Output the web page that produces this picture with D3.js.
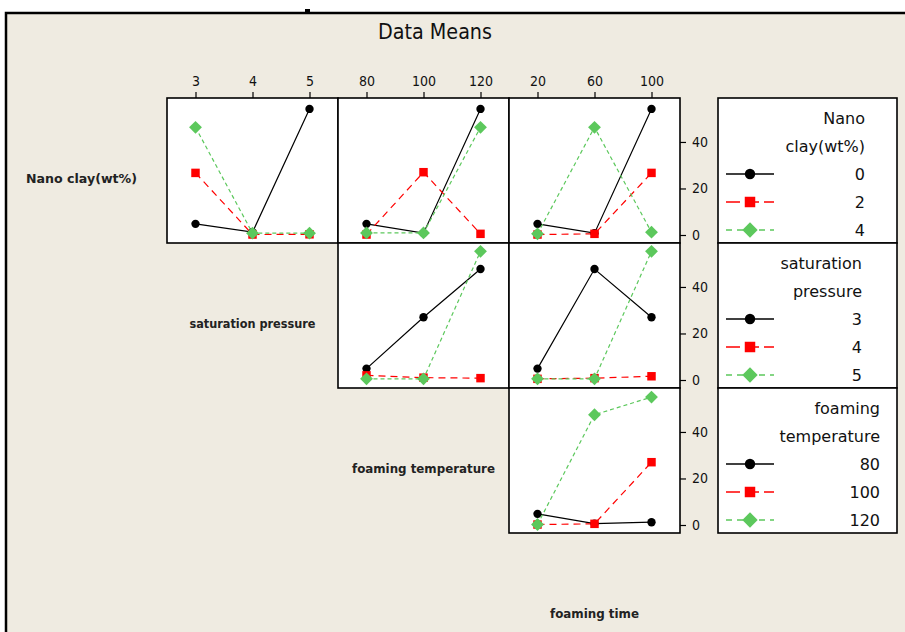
<!DOCTYPE html>
<html lang="en">
<head>
  <meta charset="UTF-8" />
  <title>Data Means</title>
  <script src="https://d3js.org/d3.v7.min.js"></script>
  <style>
    body { margin: 0; background: #fff; }
    svg { display: block; }
    .tick-label { font: 14px "Liberation Sans Narrow", "DejaVu Sans Condensed", sans-serif; fill: #111; }
    .legend-text { font: 16px "DejaVu Sans", sans-serif; fill: #111; }
    .diag { font: bold 12px "DejaVu Sans Condensed", "DejaVu Sans", sans-serif; fill: #222; }
  </style>
</head>
<body>
<div id="chart"></div>
<script>
  // factor names and their levels
  const factorNames = ["Nano clay(wt%)", "saturation pressure", "foaming temperature", "foaming time"];
  const legendTitles = [["Nano", "clay(wt%)"], ["saturation", "pressure"], ["foaming", "temperature"]];
  const clayLevels = ["0", "2", "4"];
  const pressureLevels = ["3", "4", "5"];
  const tempLevels = ["80", "100", "120"];
  const timeLevels = ["20", "60", "100"];
  const yTicks = [0, 20, 40];

  // means: [trace level][x level]
  const clayByPressure = [[4.8, 1.2, 54.2], [26.7, 0.2, 0.3], [46.3, 0.8, 0.8]];
  const clayByTemp     = [[4.8, 0.8, 54.2], [0.2, 27.0, 0.5], [0.9, 0.9, 46.3]];
  const clayByTime     = [[4.8, 0.8, 54.2], [0.2, 0.5, 26.7], [0.5, 46.3, 1.2]];
  const pressureByTemp = [[4.9, 27.0, 47.7], [2.0, 1.0, 0.8], [0.5, 0.5, 55.3]];
  const pressureByTime = [[4.9, 47.7, 27.0], [0.5, 0.8, 1.6], [0.5, 0.5, 55.3]];
  const tempByTime     = [[4.8, 0.6, 1.2], [0.2, 0.5, 27.0], [0.2, 47.4, 55.0]];

  const levels = [clayLevels, pressureLevels, tempLevels, timeLevels];
  const means = [
    [clayByPressure, clayByTemp, clayByTime],
    [null, pressureByTemp, pressureByTime],
    [null, null, tempByTime]
  ];

  const width = 905, height = 632;
  const bg = "#efebe1";
  const colors = ["#000000", "#ff0000", "#5cc85c"];
  const dashes = [null, "7,5", "4,3"];
  const shapes = [d3.symbolCircle, d3.symbolSquare, d3.symbolDiamond2];
  const plotSizes = [55, 72, 105];
  const legendSizes = [85, 110, 150];

  const panelW = 171, panelH = 145;
  const left0 = 167, top0 = 98;
  const colX = c => left0 + c * panelW;
  const rowY = r => top0 + r * panelH;
  const legendX = 718, legendW = 179;
  const legendTextRight = [865, 862, 880];

  const svg = d3.select("#chart").append("svg")
    .attr("width", width)
    .attr("height", height);

  // frame
  svg.append("rect").attr("x", 6).attr("y", 13).attr("width", width).attr("height", height)
    .attr("fill", bg);
  svg.append("path")
    .attr("d", `M6,${height}V13H${width}`)
    .attr("fill", "none").attr("stroke", "#000").attr("stroke-width", 2.5);
  svg.append("rect").attr("x", 305).attr("y", 9).attr("width", 5).attr("height", 4).attr("fill", "#000");

  svg.append("text")
    .attr("x", 435).attr("y", 39)
    .attr("text-anchor", "middle")
    .attr("textLength", 114).attr("lengthAdjust", "spacingAndGlyphs")
    .style("font", "22px 'Liberation Sans Narrow', 'DejaVu Sans Condensed', sans-serif")
    .attr("fill", "#111")
    .text("Data Means");

  const y = r => d3.scaleLinear().domain([-3.44, 58.9]).range([rowY(r) + panelH, rowY(r)]);
  const x = c => d3.scalePoint().domain(levels[c + 1]).range([colX(c), colX(c) + panelW]).padding(0.5);

  for (let r = 0; r < 3; r++) {
    for (let c = r; c < 3; c++) {
      const xs = x(c), ys = y(r);
      const g = svg.append("g");
      g.append("rect")
        .attr("x", colX(c)).attr("y", rowY(r))
        .attr("width", panelW).attr("height", panelH)
        .attr("fill", "#fff");

      const line = d3.line().x((d, i) => xs(levels[c + 1][i])).y(d => ys(d));
      means[r][c].forEach((series, k) => {
        g.append("path")
          .datum(series)
          .attr("d", line)
          .attr("fill", "none")
          .attr("stroke", colors[k])
          .attr("stroke-width", 1.2)
          .attr("stroke-dasharray", dashes[k]);
      });
      means[r][c].forEach((series, k) => {
        g.selectAll(null)
          .data(series)
          .join("path")
          .attr("transform", (d, i) => `translate(${xs(levels[c + 1][i])},${ys(d)})`)
          .attr("d", d3.symbol(shapes[k], plotSizes[k]))
          .attr("fill", colors[k]);
      });

      g.append("rect")
        .attr("x", colX(c)).attr("y", rowY(r))
        .attr("width", panelW).attr("height", panelH)
        .attr("fill", "none").attr("stroke", "#000").attr("stroke-width", 1.6);

      if (r === 0) {
        const ax = svg.append("g")
          .attr("transform", `translate(0,${rowY(0)})`)
          .call(d3.axisTop(xs).tickSize(6).tickPadding(6));
        ax.select(".domain").remove();
        ax.selectAll("line").attr("stroke", "#000").attr("stroke-width", 1.2);
        ax.selectAll("text").attr("class", "tick-label").attr("font-size", null).attr("font-family", null);
      }
      if (c === 2) {
        const ay = svg.append("g")
          .attr("transform", `translate(${colX(2) + panelW},0)`)
          .call(d3.axisRight(ys).tickValues(yTicks).tickSize(6).tickPadding(6));
        ay.select(".domain").remove();
        ay.selectAll("line").attr("stroke", "#000").attr("stroke-width", 1.2);
        ay.selectAll("text").attr("class", "tick-label").attr("font-size", null).attr("font-family", null);
      }
    }
  }

  // diagonal factor labels
  const diagWidths = [111, 126, 143, 89];
  factorNames.forEach((name, i) => {
    svg.append("text")
      .attr("class", "diag")
      .attr("x", colX(i - 1) + panelW / 2)
      .attr("y", rowY(i) + panelH / 2 + 12)
      .attr("text-anchor", "middle")
      .attr("textLength", diagWidths[i]).attr("lengthAdjust", "spacingAndGlyphs")
      .text(name);
  });

  // legends
  legendTitles.forEach((title, r) => {
    const top = rowY(r);
    const g = svg.append("g");
    g.append("rect")
      .attr("x", legendX).attr("y", top)
      .attr("width", legendW).attr("height", panelH)
      .attr("fill", "#fff").attr("stroke", "#000").attr("stroke-width", 1.6);
    const rows = title.concat(levels[r]);
    rows.forEach((t, j) => {
      g.append("text")
        .attr("class", "legend-text")
        .attr("x", legendTextRight[r])
        .attr("y", top + 20 + j * 28)
        .attr("dy", "0.35em")
        .attr("text-anchor", "end")
        .text(t);
    });
    levels[r].forEach((lv, k) => {
      const yy = top + 20 + (k + 2) * 28;
      g.append("line")
        .attr("x1", 726).attr("x2", 774).attr("y1", yy).attr("y2", yy)
        .attr("stroke", colors[k]).attr("stroke-width", 1.5)
        .attr("stroke-dasharray", k === 1 ? "14,5" : (k === 2 ? "6,5" : null));
      g.append("path")
        .attr("transform", `translate(750,${yy})`)
        .attr("d", d3.symbol(shapes[k], legendSizes[k]))
        .attr("fill", colors[k]);
    });
  });
</script>
</body>
</html>
